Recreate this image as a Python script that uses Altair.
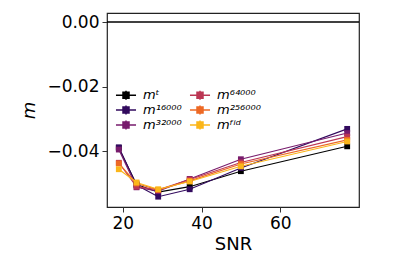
import altair as alt
import pandas as pd

snr = [19.0, 23.5, 29.0, 37.0, 50.0, 77.0]
m_t = [-0.0390, -0.0503, -0.0527, -0.0510, -0.0462, -0.0385]
m_16000 = [-0.0388, -0.0505, -0.0541, -0.0518, -0.0452, -0.0331]
m_32000 = [-0.0395, -0.0512, -0.0524, -0.0486, -0.0425, -0.0344]
m_64000 = [-0.0436, -0.0510, -0.0520, -0.0488, -0.0435, -0.0355]
m_256000 = [-0.0438, -0.0500, -0.0520, -0.0492, -0.0440, -0.0365]
m_fid = [-0.0456, -0.0497, -0.0518, -0.0494, -0.0447, -0.0370]

labels = ["mᵗ", "m¹⁶⁰⁰⁰", "m³²⁰⁰⁰", "m⁶⁴⁰⁰⁰", "m²⁵⁶⁰⁰⁰", "mᶠⁱᵈ"]
colors = ["#000000", "#320a5e", "#781c6d", "#bc3754", "#ed6925", "#fbb61a"]
series = [m_t, m_16000, m_32000, m_64000, m_256000, m_fid]

rows = []
for i, (lab, vals) in enumerate(zip(labels, series)):
    for s, v in zip(snr, vals):
        rows.append({"SNR": s, "m": v, "series": lab, "k": i})
df = pd.DataFrame(rows)

sym = "M-1.67,0L1.67,0M0,-0.75L0,0.75M-0.5,-0.5L0.5,-0.5L0.5,0.5L-0.5,0.5Z"

x = alt.X("SNR:Q", scale=alt.Scale(domain=[16, 80], nice=False, zero=False),
          axis=alt.Axis(values=[20, 40, 60], title="SNR", grid=False))
y = alt.Y("m:Q", scale=alt.Scale(domain=[-0.0573, 0.0028], nice=False, zero=False),
          axis=alt.Axis(values=[0.0, -0.02, -0.04], format=".2f", title="m", grid=False,
                        titleFontStyle="italic"))

lines = alt.Chart(df).mark_line(
    strokeWidth=1.1,
    point=alt.OverlayMarkDef(filled=True, shape="square", size=34, opacity=1),
).encode(
    x=x, y=y,
    color=alt.Color("series:N", scale=alt.Scale(domain=labels, range=colors),
                    legend=alt.Legend(title=None, orient="none", legendX=12, legendY=75,
                                      columns=2, columnPadding=4, rowPadding=-4,
                                      symbolType=sym, symbolSize=144, symbolStrokeWidth=1.5,
                                      labelFontSize=13, labelFontStyle="italic",
                                      labelFont="DejaVu Sans", labelOffset=10)),
    order="k:Q",
    detail="k:N",
)

zero = alt.Chart(pd.DataFrame({"z": [0.0]})).mark_rule(color="black", strokeWidth=1.5).encode(
    y=alt.Y("z:Q", scale=alt.Scale(domain=[-0.0573, 0.0028], nice=False, zero=False))
)

chart = alt.layer(zero, lines).properties(
    width=252, height=194,
    padding={"left": 99, "top": 5, "right": 24, "bottom": 51},
    autosize=alt.AutoSizeParams(type="none"),
).configure_view(stroke="#222222", strokeWidth=1.2).configure_axis(
    labelFont="DejaVu Sans", titleFont="DejaVu Sans", labelFontSize=17, titleFontSize=18,
    labelColor="black", titleColor="black", tickColor="#333333", tickSize=5,
    domain=False, titleFontWeight="normal", labelPadding=3,
).configure_axisX(titlePadding=4).configure_axisY(titlePadding=8)

chart.save("out.html", embed_options={"renderer": "svg", "actions": False})
